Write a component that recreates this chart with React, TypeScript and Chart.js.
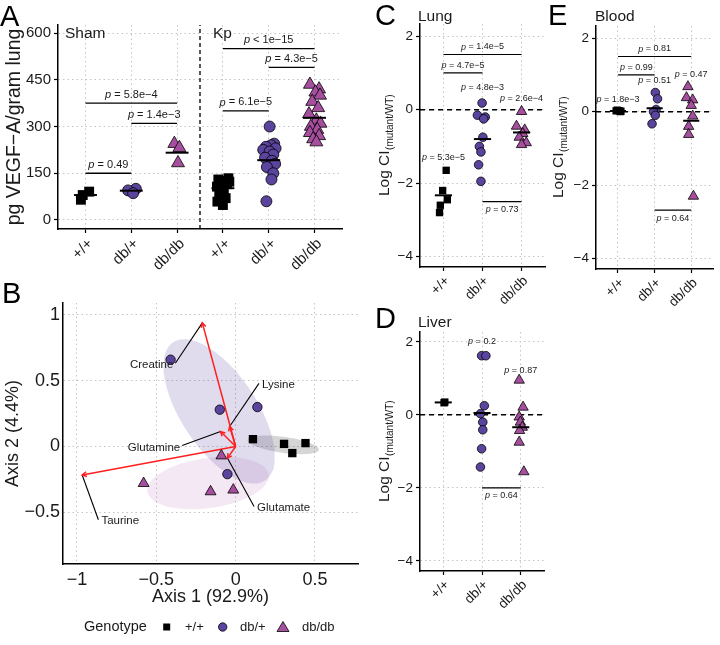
import React, { useEffect, useRef } from 'react';
import { Chart, registerables } from 'chart.js';

Chart.register(...registerables);

const FONT = '"Liberation Sans", Arial, Helvetica, sans-serif';
Chart.defaults.font.family = FONT;

const CW = 720;
const CH = 645;
const INK = '#1a1a1a';
const GRID = '#c4c4c4';
const WT_COL = '#000000';
const HET_COL = '#5a449e';
const HOM_COL = '#a64f9f';
const ARROW = '#ff1f1f';

// ---------------- Panel A : VEGF-A ----------------
const aTickLabels = ['+/+', 'db/+', 'db/db', '+/+', 'db/+', 'db/db'];
const aYTicks = [0, 150, 300, 450, 600];
const aYTickLabels = ['0', '150', '300', '450', '600'];
const aShamWT = [91, 80, 65];
const aShamWTJitter = [0.08, -0.06, -0.1];
const aShamHet = [100, 95, 86];
const aShamHetJitter = [0.1, -0.07, 0.04];
const aShamHom = [245, 232, 183];
const aShamHomJitter = [-0.06, 0.05, 0.02];
const aKpWT = [134, 130, 125, 123, 118, 115, 107, 96, 86, 70, 59, 48];
const aKpWTJitter = [0.12, -0.1, 0.05, 0.14, -0.05, 0.09, -0.13, 0.02, -0.08, 0.06, -0.12, 0.0];
const aKpHet = [300, 245, 240, 235, 230, 225, 220, 210, 200, 190, 180, 170, 150, 130, 60];
const aKpHetJitter = [0.02, 0.12, 0.05, -0.06, 0.15, -0.12, 0.02, 0.1, -0.08, 0.07, 0.14, -0.04, 0.1, 0.06, -0.05];
const aKpHom = [435, 420, 410, 400, 380, 360, 340, 320, 310, 300, 290, 280, 270, 260, 250];
const aKpHomJitter = [-0.1, 0.1, 0.02, 0.12, -0.05, 0.08, -0.12, 0.04, 0.13, -0.08, 0.06, -0.1, 0.1, -0.03, 0.04];
const aMeans = [80, 94, 216, 102, 192, 328];
const aBrackets = [
  { x1: 1, x2: 2, y: 150, rest: ' = 0.49' },
  { x1: 1, x2: 3, y: 375, rest: ' = 5.8e\u22124' },
  { x1: 2, x2: 3, y: 310, rest: ' = 1.4e\u22123' },
  { x1: 4, x2: 5, y: 350, rest: ' = 6.1e\u22125' },
  { x1: 4, x2: 6, y: 550, rest: ' < 1e\u221215' },
  { x1: 5, x2: 6, y: 490, rest: ' = 4.3e\u22125' },
];

// ---------------- Panels C/D/E : competitive index ----------------
const ciTickLabels = ['+/+', 'db/+', 'db/db'];
const ciYTicks = [-4, -2, 0, 2];
const ciYTickLabels = ['\u22124', '\u22122', '0', '2'];

const cWT = [-1.65, -2.2, -2.45, -2.6, -2.8];
const cWTJitter = [0.07, -0.02, 0.1, -0.08, -0.1];
const cHet = [0.18, -0.15, -0.2, -0.25, -0.75, -1.0, -1.15, -1.5, -1.95];
const cHetJitter = [-0.01, -0.13, 0.07, 0.03, 0.01, -0.08, -0.04, -0.1, -0.04];
const cHom = [-0.05, -0.45, -0.55, -0.65, -0.75, -0.9, -0.95];
const cHomJitter = [0.0, -0.13, 0.08, 0.03, -0.06, 0.12, 0.0];
const cMeans = [-2.33, -0.8, -0.62];
const cBrackets = [
  { x1: 1, x2: 3, y: 1.5, rest: ' = 1.4e\u22125', below: false },
  { x1: 1, x2: 2, y: 1.0, rest: ' = 4.7e\u22125', below: false },
  { x1: 2, x2: 3, y: -2.5, rest: ' = 0.73', below: true },
];
const cTexts = [
  { x: 1, y: -1.29, rest: ' = 5.3e\u22125' },
  { x: 2, y: 0.59, rest: ' = 4.8e\u22123' },
  { x: 3, y: 0.29, rest: ' = 2.6e\u22124' },
];

const dWT = [0.35, 0.33];
const dWTJitter = [0.04, 0.02];
const dHet = [1.62, 1.62, 0.25, 0.03, -0.2, -0.41, -0.93, -1.43];
const dHetJitter = [-0.01, 0.1, 0.06, -0.04, 0.02, 0.02, -0.01, -0.04];
const dHom = [0.95, 0.21, -0.06, -0.2, -0.34, -0.43, -0.75, -1.56];
const dHomJitter = [-0.04, 0.06, -0.04, -0.01, 0.04, -0.03, -0.04, 0.08];
const dMeans = [0.34, 0.05, -0.34];
const dBrackets = [{ x1: 2, x2: 3, y: -2.0, rest: ' = 0.64', below: true }];
const dTexts = [
  { x: 2, y: 2.0, rest: ' = 0.2' },
  { x: 3, y: 1.21, rest: ' = 0.87' },
];

const eWT = [0.02, 0.03, 0.0, 0.04, 0.01];
const eWTJitter = [-0.05, 0.03, 0.06, -0.02, 0.08];
const eHet = [0.52, 0.35, 0.06, 0.0, -0.1, -0.33];
const eHetJitter = [0.02, 0.08, 0.04, -0.03, 0.02, -0.07];
const eHom = [0.68, 0.38, 0.32, 0.17, -0.12, -0.4, -0.62, -2.3];
const eHomJitter = [-0.09, -0.13, 0.04, 0.0, 0.04, -0.07, -0.07, 0.06];
const eMeans = [0.02, 0.09, -0.25];
const eBrackets = [
  { x1: 1, x2: 3, y: 1.5, rest: ' = 0.81', below: false },
  { x1: 1, x2: 2, y: 1.0, rest: ' = 0.99', below: false },
  { x1: 2, x2: 3, y: -2.68, rest: ' = 0.64', below: true },
];
const eTexts = [
  { x: 1, y: 0.32, rest: ' = 1.8e\u22123' },
  { x: 2, y: 0.84, rest: ' = 0.51' },
  { x: 3, y: 1.02, rest: ' = 0.47' },
];

// ---------------- Panel B : PCA biplot ----------------
const bTicksX = [-1, -0.5, 0, 0.5];
const bTickLabelsX = ['\u22121', '\u22120.5', '0', '0.5'];
const bTicksY = [-0.5, 0, 0.5, 1];
const bTickLabelsY = ['\u22120.5', '0', '0.5', '1'];
const bWTx = [0.109, 0.305, 0.357, 0.44];
const bWTy = [0.056, 0.02, -0.05, 0.026];
const bHetX = [-0.41, -0.1, 0.137, -0.052];
const bHetY = [0.66, 0.28, 0.3, -0.21];
const bHomX = [-0.58, -0.158, -0.015, -0.09];
const bHomY = [-0.28, -0.343, -0.33, -0.07];
const bLoadingNames = ['Creatine', 'Lysine', 'Glutamine', 'Glutamate', 'Taurine'];
const bLoadingX = [-0.21, -0.038, -0.095, -0.052, -0.967];
const bLoadingY = [0.94, 0.152, 0.114, -0.088, -0.216];
const bLabelX = [-0.38, 0.147, -0.337, 0.116, -0.865];
const bLabelY = [0.633, 0.48, 0.008, -0.456, -0.557];
const bLabelSide = ['left', 'right', 'left', 'right', 'right'];
// centre (x, y), conjugate semi-axis u (x, y), conjugate semi-axis v (x, y)
const bEllipseWT = [0.3, 0.013, 0.225, -0.038, -0.007, -0.06];
const bEllipseHet = [-0.104, 0.267, 0.289, -0.526, 0.199, 0.157];
const bEllipseHom = [-0.174, -0.278, 0.382, 0.0645, 0.022, -0.188];

// ---------------- helpers ----------------
function fnt(size: number, italic = false) {
  return `${italic ? 'italic ' : ''}${size}px ${FONT}`;
}

function drawP(ctx: CanvasRenderingContext2D, cx: number, cy: number, rest: string, size: number) {
  ctx.font = fnt(size, true);
  const w1 = ctx.measureText('p').width;
  ctx.font = fnt(size);
  const w2 = ctx.measureText(rest).width;
  const x0 = cx - (w1 + w2) / 2;
  ctx.textAlign = 'left';
  ctx.textBaseline = 'middle';
  ctx.fillStyle = INK;
  ctx.font = fnt(size, true);
  ctx.fillText('p', x0, cy);
  ctx.font = fnt(size);
  ctx.fillText(rest, x0 + w1, cy);
}

function drawLetter(ctx: CanvasRenderingContext2D, txt: string, x: number, y: number, size: number) {
  ctx.font = fnt(size);
  ctx.textAlign = 'left';
  ctx.textBaseline = 'alphabetic';
  ctx.fillStyle = '#000';
  ctx.fillText(txt, x, y);
}

function drawLogCI(ctx: CanvasRenderingContext2D, bx: number, cy: number) {
  const main = 'Log CI';
  const sub = '(mutant/WT)';
  ctx.save();
  ctx.translate(bx, cy);
  ctx.rotate(-Math.PI / 2);
  ctx.font = fnt(15.5);
  const w1 = ctx.measureText(main).width;
  ctx.font = fnt(10);
  const w2 = ctx.measureText(sub).width;
  const x0 = -(w1 + w2) / 2;
  ctx.textAlign = 'left';
  ctx.textBaseline = 'alphabetic';
  ctx.fillStyle = INK;
  ctx.font = fnt(15.5);
  ctx.fillText(main, x0, 0);
  ctx.font = fnt(10);
  ctx.fillText(sub, x0 + w1 + 0.5, 4);
  ctx.restore();
}

function pts(cat: number, vals: number[], jit: number[], style: string, color: string, r: number) {
  return {
    data: vals.map((v, i) => ({ x: cat + jit[i], y: v })),
    showLine: false,
    pointStyle: style,
    pointRadius: r,
    pointHoverRadius: r,
    pointBackgroundColor: color,
    pointBorderColor: '#000',
    pointBorderWidth: style === 'rect' ? 0 : 0.8,
    order: 0,
  };
}

function xyPts(xs: number[], ys: number[], style: string, color: string, r: number) {
  return {
    data: xs.map((x, i) => ({ x, y: ys[i] })),
    showLine: false,
    pointStyle: style,
    pointRadius: r,
    pointHoverRadius: r,
    pointBackgroundColor: color,
    pointBorderColor: '#000',
    pointBorderWidth: style === 'rect' ? 0 : 0.8,
    order: 0,
  };
}

function seg(x1: number, y1: number, x2: number, y2: number, width: number, color = '#000', dash: number[] = [], order = 1) {
  return {
    data: [{ x: x1, y: y1 }, { x: x2, y: y2 }],
    showLine: true,
    borderColor: color,
    borderWidth: width,
    borderDash: dash,
    pointRadius: 0,
    pointHoverRadius: 0,
    fill: false,
    order,
  };
}

function ellipse(e: number[], color: string) {
  const data: { x: number; y: number }[] = [];
  const n = 90;
  for (let i = 0; i <= n; i++) {
    const t = (2 * Math.PI * i) / n;
    data.push({
      x: e[0] + e[2] * Math.cos(t) + e[4] * Math.sin(t),
      y: e[1] + e[3] * Math.cos(t) + e[5] * Math.sin(t),
    });
  }
  return {
    data,
    showLine: true,
    fill: 'shape',
    backgroundColor: color,
    borderColor: 'rgba(0,0,0,0)',
    borderWidth: 0,
    pointRadius: 0,
    pointHoverRadius: 0,
    order: 10,
  };
}

interface AxisOpts {
  min: number;
  max: number;
  ticks: number[];
  labels: string[];
  size: number;
  horizontal: boolean;
  fit: number;
  rot?: number;
  drawTicks?: boolean;
  pad?: number;
  labelOffset?: number;
  title?: string;
  titleSize?: number;
}

function axis(o: AxisOpts) {
  return {
    type: 'linear',
    min: o.min,
    max: o.max,
    afterBuildTicks: (s: any) => {
      s.ticks = o.ticks.map((v) => ({ value: v }));
    },
    afterFit: (s: any) => {
      if (o.horizontal) s.height = o.fit;
      else s.width = o.fit;
    },
    ticks: {
      autoSkip: false,
      callback: (_v: any, i: number) => o.labels[i],
      font: { size: o.size, family: FONT },
      color: INK,
      padding: o.pad ?? 3,
      labelOffset: o.labelOffset ?? 0,
      minRotation: o.rot ?? 0,
      maxRotation: o.rot ?? 0,
    },
    grid: {
      color: GRID,
      lineWidth: 1,
      drawTicks: o.drawTicks ?? true,
      tickLength: 4,
      tickColor: '#000',
      tickWidth: 1.2,
      tickBorderDash: [],
    },
    border: { display: true, color: '#000', width: 1.5, dash: [1.5, 3] },
    title: o.title
      ? { display: true, text: o.title, font: { size: o.titleSize, family: FONT }, color: INK, padding: 0 }
      : { display: false },
  };
}

interface Area { l: number; r: number; t: number; b: number }

function baseOptions(area: Area, yFit: number, xFit: number, scales: any) {
  return {
    responsive: false,
    animation: false,
    events: [],
    layout: {
      padding: {
        left: area.l - yFit,
        right: CW - area.r,
        top: area.t,
        bottom: CH - area.b - xFit,
      },
    },
    plugins: { legend: { display: false }, tooltip: { enabled: false } },
    scales,
  };
}

// ---------------- Panel A config ----------------
function configA(): any {
  const area = { l: 58, r: 342, t: 25, b: 229 };
  const yMin = -29;
  const yMax = 626;
  const datasets: any[] = [
    pts(1, aShamWT, aShamWTJitter, 'rect', WT_COL, 7),
    pts(2, aShamHet, aShamHetJitter, 'circle', HET_COL, 5.5),
    pts(3, aShamHom, aShamHomJitter, 'triangle', HOM_COL, 7.5),
    pts(4, aKpWT, aKpWTJitter, 'rect', WT_COL, 7),
    pts(5, aKpHet, aKpHetJitter, 'circle', HET_COL, 5.5),
    pts(6, aKpHom, aKpHomJitter, 'triangle', HOM_COL, 7.5),
  ];
  aMeans.forEach((m, i) => datasets.push(seg(i + 1 - 0.25, m, i + 1 + 0.25, m, 2, '#000', [], -1)));
  aBrackets.forEach((b) => datasets.push(seg(b.x1, b.y, b.x2, b.y, 1.3)));
  datasets.push(seg(3.5, yMin, 3.5, yMax, 1.3, '#000', [4, 3], 3));
  const plugin = {
    id: 'annotA',
    afterDatasetsDraw(chart: any) {
      const ctx: CanvasRenderingContext2D = chart.ctx;
      const xs = chart.scales.x;
      const ys = chart.scales.y;
      ctx.save();
      aBrackets.forEach((b) => {
        const cx = xs.getPixelForValue((b.x1 + b.x2) / 2);
        const ly = ys.getPixelForValue(b.y);
        drawP(ctx, cx, ly - 8.5, b.rest, 11);
      });
      drawLetter(ctx, 'A', 0, 26, 29);
      ctx.font = fnt(15.5);
      ctx.fillStyle = INK;
      ctx.textBaseline = 'alphabetic';
      ctx.fillText('Sham', 65, 38);
      ctx.fillText('Kp', 213, 38);
      ctx.restore();
    },
  };
  return {
    type: 'scatter',
    data: { datasets },
    options: baseOptions(area, 55, 50, {
      x: axis({ min: 0.4, max: 6.6, ticks: [1, 2, 3, 4, 5, 6], labels: aTickLabels, size: 15, horizontal: true, fit: 50, rot: 45, pad: 2, labelOffset: 5 }),
      y: axis({ min: yMin, max: yMax, ticks: aYTicks, labels: aYTickLabels, size: 15, horizontal: false, fit: 55, title: 'pg VEGF\u2212A/gram lung', titleSize: 19.5 }),
    }),
    plugins: [plugin],
  };
}

// ---------------- CI panel config ----------------
interface CISpec {
  id: string;
  area: Area;
  yMin: number;
  yMax: number;
  wt: number[]; wtJ: number[];
  het: number[]; hetJ: number[];
  hom: number[]; homJ: number[];
  means: number[];
  brackets: { x1: number; x2: number; y: number; rest: string; below: boolean }[];
  texts: { x: number; y: number; rest: string }[];
  letter: string; letterX: number; letterY: number;
  title: string; titleX: number; titleY: number;
  yTitleX: number;
}

function configCI(s: CISpec): any {
  const datasets: any[] = [
    pts(1, s.wt, s.wtJ, 'rect', WT_COL, 5.2),
    pts(2, s.het, s.hetJ, 'circle', HET_COL, 4.3),
    pts(3, s.hom, s.homJ, 'triangle', HOM_COL, 6),
  ];
  s.means.forEach((m, i) => datasets.push(seg(i + 1 - 0.22, m, i + 1 + 0.22, m, 2, '#000', [], -1)));
  s.brackets.forEach((b) => datasets.push(seg(b.x1, b.y, b.x2, b.y, 1.2)));
  datasets.push(seg(0.4, 0, 3.6, 0, 1.5, '#000', [5, 4], 3));
  const plugin = {
    id: 'annot' + s.id,
    afterDatasetsDraw(chart: any) {
      const ctx: CanvasRenderingContext2D = chart.ctx;
      const xs = chart.scales.x;
      const ys = chart.scales.y;
      ctx.save();
      s.brackets.forEach((b) => {
        const cx = xs.getPixelForValue((b.x1 + b.x2) / 2);
        const ly = ys.getPixelForValue(b.y);
        drawP(ctx, cx, b.below ? ly + 8 : ly - 7.5, b.rest, 9);
      });
      s.texts.forEach((t) => drawP(ctx, xs.getPixelForValue(t.x), ys.getPixelForValue(t.y), t.rest, 9));
      drawLetter(ctx, s.letter, s.letterX, s.letterY, 29);
      ctx.font = fnt(15.5);
      ctx.fillStyle = INK;
      ctx.textBaseline = 'alphabetic';
      ctx.textAlign = 'left';
      ctx.fillText(s.title, s.titleX, s.titleY);
      const ca = chart.chartArea;
      drawLogCI(ctx, s.yTitleX, (ca.top + ca.bottom) / 2);
      ctx.restore();
    },
  };
  return {
    type: 'scatter',
    data: { datasets },
    options: baseOptions(s.area, 40, 45, {
      x: axis({ min: 0.4, max: 3.6, ticks: [1, 2, 3], labels: ciTickLabels, size: 13.5, horizontal: true, fit: 45, rot: 45, pad: 2, labelOffset: 4 }),
      y: axis({ min: s.yMin, max: s.yMax, ticks: ciYTicks, labels: ciYTickLabels, size: 13.5, horizontal: false, fit: 40 }),
    }),
    plugins: [plugin],
  };
}

// ---------------- Panel B config ----------------
function configB(): any {
  const area = { l: 63, r: 358, t: 303, b: 564 };
  const datasets: any[] = [
    xyPts(bWTx, bWTy, 'rect', WT_COL, 5.9),
    xyPts(bHetX, bHetY, 'circle', HET_COL, 4.7),
    xyPts(bHomX, bHomY, 'triangle', HOM_COL, 6.3),
  ];
  bLoadingX.forEach((lx, i) => datasets.push(seg(0, 0, lx, bLoadingY[i], 1.5, ARROW, [], 4)));
  bLoadingX.forEach((lx, i) => datasets.push(seg(lx, bLoadingY[i], bLabelX[i], bLabelY[i], 1.1, '#000', [], 4)));
  datasets.push(ellipse(bEllipseHom, 'rgba(166,79,159,0.13)'));
  datasets.push(ellipse(bEllipseHet, 'rgba(90,68,158,0.19)'));
  datasets.push(ellipse(bEllipseWT, 'rgba(0,0,0,0.16)'));
  const plugin = {
    id: 'annotB',
    afterDatasetsDraw(chart: any) {
      const ctx: CanvasRenderingContext2D = chart.ctx;
      const xs = chart.scales.x;
      const ys = chart.scales.y;
      ctx.save();
      const ox = xs.getPixelForValue(0);
      const oy = ys.getPixelForValue(0);
      ctx.strokeStyle = ARROW;
      ctx.lineWidth = 1.5;
      bLoadingX.forEach((lx, i) => {
        const px = xs.getPixelForValue(lx);
        const py = ys.getPixelForValue(bLoadingY[i]);
        const ang = Math.atan2(py - oy, px - ox);
        const L = 5;
        const sp = 0.5;
        ctx.beginPath();
        ctx.moveTo(px - L * Math.cos(ang - sp), py - L * Math.sin(ang - sp));
        ctx.lineTo(px, py);
        ctx.lineTo(px - L * Math.cos(ang + sp), py - L * Math.sin(ang + sp));
        ctx.stroke();
      });
      ctx.font = fnt(11.5);
      ctx.fillStyle = INK;
      ctx.textBaseline = 'middle';
      bLoadingNames.forEach((n, i) => {
        const px = xs.getPixelForValue(bLabelX[i]);
        const py = ys.getPixelForValue(bLabelY[i]);
        if (bLabelSide[i] === 'left') {
          ctx.textAlign = 'right';
          ctx.fillText(n, px - 2, py + 2);
        } else {
          ctx.textAlign = 'left';
          ctx.fillText(n, px + 3, py + 1.5);
        }
      });
      drawLetter(ctx, 'B', 2, 303, 29);

      // legend
      const ly = 627;
      ctx.textAlign = 'left';
      ctx.textBaseline = 'middle';
      ctx.fillStyle = INK;
      ctx.font = fnt(14.5);
      ctx.fillText('Genotype', 84, ly);
      ctx.font = fnt(13);
      ctx.fillStyle = '#000';
      ctx.fillRect(163.2, ly - 3.5, 7, 7);
      ctx.fillStyle = INK;
      ctx.fillText('+/+', 185, ly);
      ctx.beginPath();
      ctx.arc(222.7, ly, 4.2, 0, Math.PI * 2);
      ctx.fillStyle = HET_COL;
      ctx.fill();
      ctx.lineWidth = 0.8;
      ctx.strokeStyle = '#000';
      ctx.stroke();
      ctx.fillStyle = INK;
      ctx.fillText('db/+', 240, ly);
      ctx.beginPath();
      ctx.moveTo(283, ly - 5.5);
      ctx.lineTo(289, ly + 4.5);
      ctx.lineTo(277, ly + 4.5);
      ctx.closePath();
      ctx.fillStyle = HOM_COL;
      ctx.fill();
      ctx.stroke();
      ctx.fillStyle = INK;
      ctx.fillText('db/db', 302, ly);
      ctx.restore();
    },
  };
  return {
    type: 'scatter',
    data: { datasets },
    options: baseOptions(area, 61, 44, {
      x: axis({ min: -1.088, max: 0.771, ticks: bTicksX, labels: bTickLabelsX, size: 18, horizontal: true, fit: 44, drawTicks: false, pad: 5, title: 'Axis 1 (92.9%)', titleSize: 18 }),
      y: axis({ min: -0.893, max: 1.091, ticks: bTicksY, labels: bTickLabelsY, size: 18, horizontal: false, fit: 61, drawTicks: false, pad: 3, title: 'Axis 2 (4.4%)', titleSize: 18 }),
    }),
    plugins: [plugin],
  };
}

function configC(): any {
  return configCI({
    id: 'C', area: { l: 420, r: 545, t: 24, b: 267 }, yMin: -4.28, yMax: 2.33,
    wt: cWT, wtJ: cWTJitter, het: cHet, hetJ: cHetJitter, hom: cHom, homJ: cHomJitter,
    means: cMeans, brackets: cBrackets, texts: cTexts,
    letter: 'C', letterX: 375, letterY: 25, title: 'Lung', titleX: 418, titleY: 21, yTitleX: 389,
  });
}

function configD(): any {
  return configCI({
    id: 'D', area: { l: 420, r: 544, t: 332, b: 571 }, yMin: -4.28, yMax: 2.27,
    wt: dWT, wtJ: dWTJitter, het: dHet, hetJ: dHetJitter, hom: dHom, homJ: dHomJitter,
    means: dMeans, brackets: dBrackets, texts: dTexts,
    letter: 'D', letterX: 375, letterY: 328, title: 'Liver', titleX: 418, titleY: 327, yTitleX: 389,
  });
}

function configE(): any {
  return configCI({
    id: 'E', area: { l: 596, r: 720, t: 26, b: 269 }, yMin: -4.28, yMax: 2.33,
    wt: eWT, wtJ: eWTJitter, het: eHet, hetJ: eHetJitter, hom: eHom, homJ: eHomJitter,
    means: eMeans, brackets: eBrackets, texts: eTexts,
    letter: 'E', letterX: 548, letterY: 25, title: 'Blood', titleX: 595, titleY: 21, yTitleX: 563,
  });
}

export default function App() {
  const rA = useRef<HTMLCanvasElement>(null);
  const rB = useRef<HTMLCanvasElement>(null);
  const rC = useRef<HTMLCanvasElement>(null);
  const rD = useRef<HTMLCanvasElement>(null);
  const rE = useRef<HTMLCanvasElement>(null);

  useEffect(() => {
    const charts: Chart[] = [];
    const pairs: [React.RefObject<HTMLCanvasElement>, () => any][] = [
      [rA, configA],
      [rB, configB],
      [rC, configC],
      [rD, configD],
      [rE, configE],
    ];
    pairs.forEach(([r, cfg]) => {
      if (r.current) charts.push(new Chart(r.current, cfg()));
    });
    return () => charts.forEach((c) => c.destroy());
  }, []);

  const style: React.CSSProperties = { position: 'absolute', left: 0, top: 0, width: CW, height: CH };
  return (
    <div style={{ position: 'fixed', left: 0, top: 0, width: CW, height: CH, background: '#ffffff', overflow: 'hidden' }}>
      <canvas ref={rA} width={CW} height={CH} style={style} />
      <canvas ref={rB} width={CW} height={CH} style={style} />
      <canvas ref={rC} width={CW} height={CH} style={style} />
      <canvas ref={rD} width={CW} height={CH} style={style} />
      <canvas ref={rE} width={CW} height={CH} style={style} />
    </div>
  );
}
